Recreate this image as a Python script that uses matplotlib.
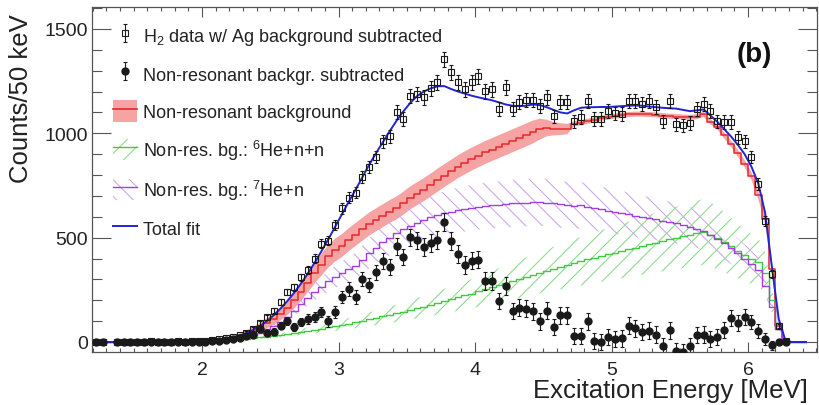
import numpy as np
import matplotlib
matplotlib.use("Agg")
import matplotlib.pyplot as plt
from matplotlib.patches import Patch
from matplotlib.lines import Line2D
from matplotlib.ticker import MultipleLocator

plt.rcParams['font.family'] = ['Liberation Sans', 'DejaVu Sans']
plt.rcParams['mathtext.fontset'] = 'custom'
plt.rcParams['mathtext.rm'] = 'Liberation Sans'
plt.rcParams['mathtext.it'] = 'Liberation Sans:italic'
plt.rcParams['hatch.linewidth'] = 0.8

nan = np.nan

# 50 keV bin centres, 1.225 ... 6.425 MeV (105 bins)
energy = np.round(np.arange(1.225, 6.45, 0.05), 3)

# H2 data w/ Ag background subtracted (open squares)
h2_data = [
    0, 2, nan, 1, 0, 2, 1, 0, 3, 1,                              # 1.225-1.675
    2, 0, 3, 2, 4, 3, 5, 8, 12, 18,                              # 1.725-2.175
    22, 32, 45, 62, 90, 118, 150, 190, 240, 262,                 # 2.225-2.675
    310, 345, 400, 470, 485, 560, 640, 690, 715, 790,            # 2.725-3.175
    840, 885, 962, 985, 1100, 1067, 1177, 1187, 1172, 1215,      # 3.225-3.675
    1244, 1354, 1292, 1244, 1211, 1244, 1273, 1201, 1211, 1115,  # 3.725-4.175
    1220, 1115, 1148, 1158, 1158, 1129, 1172, 1081, 1148, 1148,  # 4.225-4.675
    1057, 1077, 1153, 1067, 1067, 1105, 1095, 1091, 1153, 1153,  # 4.725-5.175
    1140, 1153, 1125, 1057, 1153, 1043, 1038, 1048, 1115, 1139,  # 5.225-5.675
    1105, 1057, 1053, 1053, 981, 962, 885, 756, 579, 325,        # 5.725-6.175
    77, 5, nan, nan, nan,                                        # 6.225-6.425
]

# non-resonant background subtracted (filled points)
bg_subtracted = [
    0, 0, nan, 0, 2, 0, 1, 0, 2, 0,
    1, 0, 0, 2, 0, 1, 2, 3, 5, 10,
    12, 20, 28, 35, 62, 45, 50, 77, 100, 72,
    96, 110, 120, 144, 100, 144, 215, 254, 215, 301,
    273, 335, 388, 359, 459, 407, 502, 488, 455, 474,
    488, 574, 483, 421, 369, 390, 395, 292, 292, 196,
    268, 148, 163, 160, 148, 100, 150, 72, 129, 129,
    29, 29, 100, 5, 0, 24, 14, 17, 77, 67,
    48, 53, 34, -19, 57, -43, -48, -19, 34, 34,
    14, 24, 57, 115, 91, 120, 96, 53, 14, -15,
    0, 0, nan, nan, nan,
]

# non-resonant background (red histogram) and its band half-width
nonres_bg = [
    0, 0, 0, 0, 0, 0, 0, 0, 0, 0,
    0, 0, 0, 0, 0, 0, 0, 2, 5, 10,
    18, 28, 40, 55, 72, 90, 110, 135, 165, 200,
    240, 285, 330, 370, 410, 440, 462, 490, 515, 540,
    565, 585, 605, 625, 642, 665, 690, 710, 730, 752,
    775, 797, 818, 840, 858, 876, 892, 908, 922, 936,
    950, 964, 978, 992, 1006, 1020, 1025, 1022, 1020, 1020,
    1045, 1050, 1058, 1065, 1072, 1078, 1082, 1086, 1090, 1092,
    1092, 1090, 1088, 1085, 1082, 1080, 1078, 1076, 1080, 1090,
    1055, 1030, 990, 950, 905, 855, 795, 705, 590, 350,
    77, 0, 0, 0, 0,
]
nonres_err = [
    0, 0, 0, 0, 0, 0, 0, 0, 0, 0,
    0, 0, 0, 0, 0, 0, 0, 1, 3, 5,
    8, 11, 14, 17, 20, 24, 28, 32, 36, 40,
    44, 47, 50, 52, 54, 55, 55, 55, 55, 55,
    55, 55, 55, 55, 55, 55, 55, 55, 55, 55,
    55, 55, 55, 55, 55, 55, 55, 55, 55, 55,
    55, 55, 55, 55, 55, 50, 40, 32, 28, 25,
    12, 12, 12, 12, 12, 12, 12, 12, 12, 12,
    12, 12, 12, 12, 12, 12, 12, 12, 12, 12,
    12, 12, 14, 15, 16, 17, 18, 20, 22, 20,
    10, 0, 0, 0, 0,
]

# non-res. bg.: 6He+n+n (green)
he6_nn = [
    0, 0, 0, 0, 0, 0, 0, 0, 0, 0,
    0, 0, 0, 0, 0, 0, 2, 4, 6, 8,
    10, 13, 16, 19, 22, 26, 30, 34, 38, 43,
    48, 53, 58, 64, 70, 76, 82, 88, 95, 102,
    109, 116, 123, 130, 138, 146, 154, 162, 170, 178,
    187, 196, 205, 214, 223, 232, 242, 252, 262, 272,
    282, 292, 302, 312, 322, 332, 342, 351, 360, 369,
    378, 387, 396, 404, 412, 420, 428, 436, 444, 452,
    460, 468, 476, 484, 492, 499, 506, 513, 520, 528,
    515, 498, 478, 458, 436, 415, 398, 385, 330, 200,
    60, 0, 0, 0, 0,
]

# non-res. bg.: 7He+n (purple)
he7_n = [
    0, 0, 0, 0, 0, 0, 0, 0, 0, 0,
    0, 0, 0, 0, 0, 0, 0, 0, 0, 3,
    8, 14, 22, 32, 45, 60, 78, 98, 122, 150,
    180, 212, 240, 265, 290, 312, 330, 348, 366, 395,
    425, 452, 478, 500, 520, 540, 556, 572, 586, 598,
    608, 617, 625, 632, 638, 643, 648, 652, 655, 658,
    661, 664, 666, 668, 670, 670, 668, 664, 660, 655,
    652, 655, 648, 642, 636, 630, 624, 618, 612, 606,
    600, 594, 588, 582, 575, 568, 560, 552, 543, 530,
    515, 495, 475, 450, 425, 400, 375, 345, 270, 170,
    60, 0, 0, 0, 0,
]

# relative size of the hatched uncertainty bands
he6_rel_err = 0.30
he7_rel_err = 0.17

# total fit (blue)
total_fit = [
    0, 0, 0, 0, 0, 0, 0, 0, 0, 0,
    0, 0, 0, 0, 0, 0, 2, 4, 8, 13,
    20, 30, 42, 58, 77, 100, 128, 160, 196, 236,
    280, 328, 380, 435, 492, 552, 612, 672, 730, 790,
    850, 905, 958, 1010, 1060, 1105, 1145, 1178, 1200, 1215,
    1225, 1226, 1212, 1200, 1190, 1180, 1172, 1165, 1158, 1148,
    1138, 1132, 1130, 1132, 1138, 1135, 1125, 1112, 1100, 1095,
    1110, 1122, 1125, 1125, 1126, 1126, 1128, 1130, 1132, 1133,
    1132, 1128, 1125, 1122, 1120, 1118, 1112, 1106, 1110, 1114,
    1085, 1055, 1020, 985, 945, 900, 840, 760, 620, 360,
    110, 5, 0, 0, 0,
]

h2 = np.array(h2_data, dtype=float)
sub = np.array(bg_subtracted, dtype=float)
red = np.array(nonres_bg, dtype=float)
red_e = np.array(nonres_err, dtype=float)
green = np.array(he6_nn, dtype=float)
purple = np.array(he7_n, dtype=float)
blue = np.array(total_fit, dtype=float)

# Poisson-like error bars
h2_err = np.sqrt(np.abs(np.nan_to_num(h2)) + 1)
sub_err = 1.2 * h2_err

RED = '#e8262a'
PINK = '#f5a3a3'
GREEN = '#3dcc3d'
GREEN_H = '#8edc8e'
PURPLE = '#a23ee8'
PURPLE_H = '#cfa8ee'
BLUE = '#2323d8'
INK = '#1a1a1a'

fig = plt.figure(figsize=(8.2, 4.06), dpi=100)
ax = fig.add_axes([0.1122, 0.1305, 0.8841, 0.8498])

# bands (smooth ribbons)
ax.fill_between(energy, red - red_e, red + red_e,
                facecolor=PINK, edgecolor='none', zorder=1)
ax.fill_between(energy, purple * (1 - he7_rel_err), purple * (1 + he7_rel_err),
                facecolor='none', edgecolor=PURPLE_H,
                hatch='\\\\', linewidth=0, zorder=2)
ax.fill_between(energy, green * (1 - he6_rel_err), green * (1 + he6_rel_err),
                facecolor='none', edgecolor=GREEN_H,
                hatch='//', linewidth=0, zorder=2)

# histograms
ax.step(energy, red, where='mid', color=RED, lw=1.1, zorder=3)
ax.step(energy, green, where='mid', color=GREEN, lw=1.0, zorder=3)
ax.step(energy, purple, where='mid', color=PURPLE, lw=1.0, zorder=3)

# total fit
ax.plot(energy, blue, color=BLUE, lw=1.4, zorder=4)

# data
h_h2 = ax.errorbar(energy, h2, yerr=h2_err, fmt='s', mfc='none', mec=INK,
                   ms=5, mew=0.8, ecolor=INK, elinewidth=0.8,
                   capsize=1.5, capthick=0.8, zorder=5)
h_sub = ax.errorbar(energy, sub, yerr=sub_err, fmt='o', color=INK,
                    ms=5, ecolor=INK, elinewidth=0.8,
                    capsize=1.5, capthick=0.8, zorder=6)

ax.set_xlim(1.194, 6.505)
ax.set_ylim(-48, 1605)

ax.xaxis.set_major_locator(MultipleLocator(1))
ax.xaxis.set_minor_locator(MultipleLocator(0.1))
ax.yaxis.set_major_locator(MultipleLocator(500))
ax.yaxis.set_minor_locator(MultipleLocator(100))
ax.tick_params(which='both', direction='in', top=True, right=True,
               colors='#555555', labelcolor='#222222', width=0.8)
ax.tick_params(axis='x', which='major', length=7, pad=6.5, labelsize=14)
ax.tick_params(axis='x', which='minor', length=3)
ax.tick_params(axis='y', which='major', length=14, pad=3, labelsize=14)
ax.tick_params(axis='y', which='minor', length=7)
for s in ax.spines.values():
    s.set_color('#555555')
    s.set_linewidth(0.9)

fig.text(0.985, 0.0197, 'Excitation Energy [MeV]', ha='right',
         va='baseline', fontsize=18.5, color='#222222')
fig.text(0.011, 0.966, 'Counts/50 keV', rotation=90, ha='left', va='top',
         fontsize=18.5, color='#222222')

ax.text(0.914, 0.864, '(b)', transform=ax.transAxes, fontsize=20,
        fontweight='bold', ha='center', va='center', color='#111111')

handles = [
    h_h2,
    h_sub,
    (Patch(facecolor=PINK, edgecolor='none'), Line2D([], [], color=RED, lw=1.2)),
    (Patch(facecolor='none', edgecolor=GREEN_H, hatch='//', linewidth=0),
     Line2D([], [], color=GREEN, lw=1.0)),
    (Patch(facecolor='none', edgecolor=PURPLE_H, hatch='\\\\', linewidth=0),
     Line2D([], [], color=PURPLE, lw=1.0)),
    Line2D([], [], color=BLUE, lw=1.4),
]
labels = [
    r'H$_2$ data w/ Ag background subtracted',
    'Non-resonant backgr. subtracted',
    'Non-resonant background',
    r'Non-res. bg.: $^{6}$He+n+n',
    r'Non-res. bg.: $^{7}$He+n',
    'Total fit',
]
leg = ax.legend(handles, labels, loc='upper left', bbox_to_anchor=(0.029, 0.95),
                frameon=False, fontsize=13, borderaxespad=0, borderpad=0,
                handlelength=1.35, handleheight=1.45, handletextpad=0.3,
                labelspacing=0.88)
for t in leg.get_texts():
    t.set_color('#222222')

fig.savefig('out.png', dpi=100)
